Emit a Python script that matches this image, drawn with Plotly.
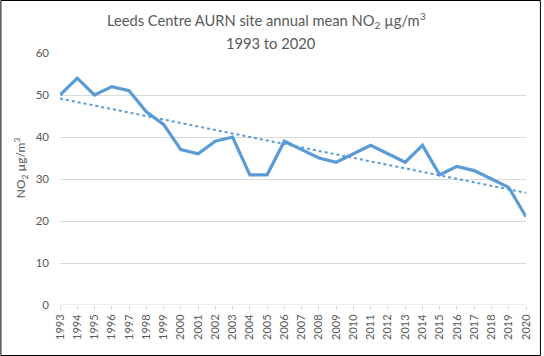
import plotly.graph_objects as go
import numpy as np

years = list(range(1993, 2021))
no2 = [50, 54, 50, 52, 51, 46, 43, 37, 36, 39, 40, 31, 31, 39, 37, 35, 34, 36, 38, 36, 34, 38, 31, 33, 32, 30, 28, 21]
y_ticks = [0, 10, 20, 30, 40, 50, 60]
title_line1 = "Leeds Centre AURN site annual mean NO<sub>2</sub> µg/m<sup>3</sup>"
title_line2 = "1993 to 2020"
y_title = "NO<sub>2</sub> µg/m<sup>3</sup>"

# linear trendline (least squares), as in the source chart
coef = np.polyfit(years, no2, 1)
trend = list(np.polyval(coef, years))

fig = go.Figure()
fig.add_trace(go.Scatter(x=years, y=no2, mode="lines",
                         line=dict(color="#5b9bd5", width=3.2), showlegend=False))
fig.add_trace(go.Scatter(x=years, y=trend, mode="lines",
                         line=dict(color="#5b9bd5", width=2, dash="dot"), showlegend=False))

L, R, T, B = 60, 544 - 529, 53, 356 - 305
W, H = 544 - L - R, 356 - T - B

def px(p):
    return (p - L) / W

def py(p):
    return 1 + (T - p) / H

fig.update_layout(
    width=544, height=356,
    margin=dict(l=L, r=R, t=T, b=B),
    paper_bgcolor="white", plot_bgcolor="white",
    font=dict(family="Lato, Liberation Sans, sans-serif", color="#595959"),
    xaxis=dict(range=[1993, 2020], tickmode="array", tickvals=years,
               ticktext=[str(y) for y in years], tickangle=-90,
               tickfont=dict(size=11, color="#595959"),
               showgrid=False, zeroline=False, showline=False,
               ticks="outside", ticklen=4, tickcolor="#d9d9d9"),
    yaxis=dict(range=[0, 60], tickvals=y_ticks, showgrid=True, gridcolor="#d9d9d9",
               zeroline=False, tickfont=dict(size=11.5, color="#595959"),
               ticks="", ticklabelstandoff=10),
    annotations=[
        dict(text=title_line1, xref="paper", yref="paper", x=px(268), y=py(20),
             xanchor="center", yanchor="middle", showarrow=False,
             font=dict(size=14.7, color="#595959")),
        dict(text=title_line2, xref="paper", yref="paper", x=px(272), y=py(43),
             xanchor="center", yanchor="middle", showarrow=False,
             font=dict(size=14.7, color="#595959")),
        dict(text=y_title, xref="paper", yref="paper", x=px(21), y=py(168),
             xanchor="center", yanchor="middle", showarrow=False, textangle=-90,
             font=dict(size=12, color="#595959")),
    ],
    shapes=[
        dict(type="line", xref="paper", yref="y", x0=0, x1=1, y0=0, y1=0,
             line=dict(color="#d9d9d9", width=1)),
        dict(type="rect", xref="paper", yref="paper",
             x0=(0.5 - L) / W, x1=(543.5 - L) / W,
             y0=-(B - 0.5) / H, y1=1 + (T - 0.5) / H,
             line=dict(color="black", width=1), layer="above"),
    ],
)

fig.write_html("out.html", config={"displayModeBar": False},
               post_script="document.body.style.margin='0';document.body.style.overflow='hidden';")
